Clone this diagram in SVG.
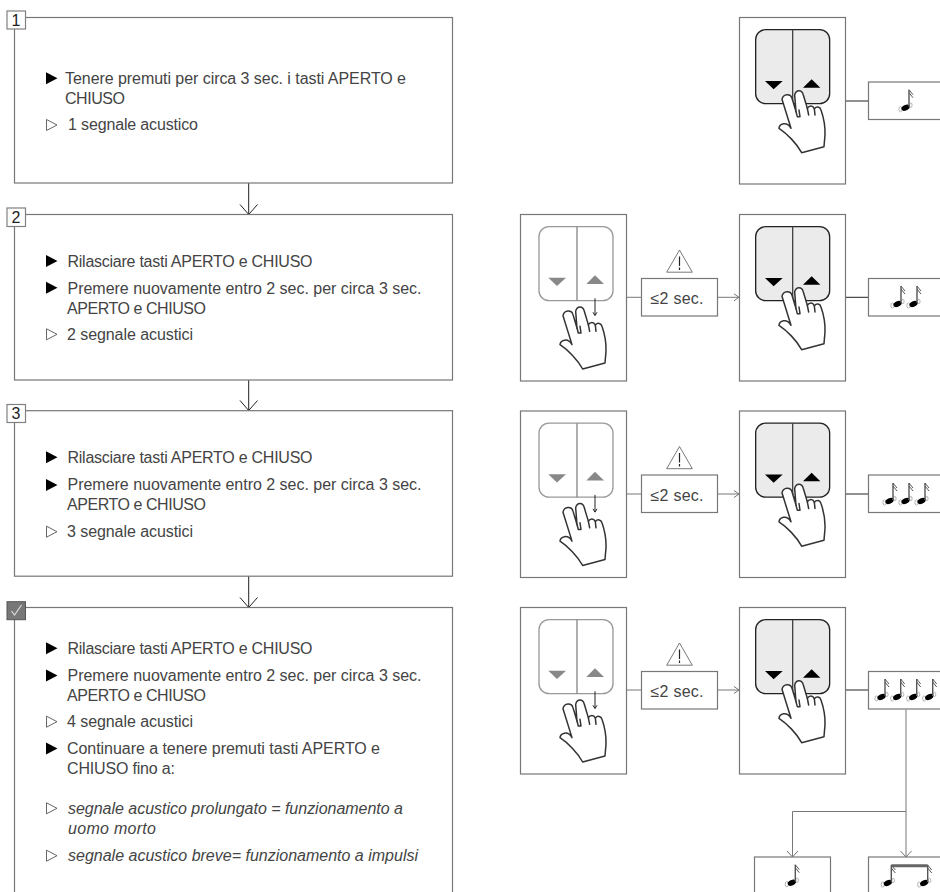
<svg xmlns="http://www.w3.org/2000/svg" width="940" height="892" viewBox="0 0 940 892">
<style>
.box{fill:#fff;stroke:#777;stroke-width:1.200}
.tag{fill:#fff;stroke:#808080;stroke-width:1.200}
.t{font-family:"Liberation Sans",Arial,sans-serif;font-size:16px;fill:#444}
.i{font-style:italic}
.b{fill:#000}
.o{fill:#fff;stroke:#555;stroke-width:.9}
.ln{fill:none;stroke:#222;stroke-width:1}
.lg{fill:none;stroke:#777;stroke-width:1}
.num{font-family:"Liberation Sans",Arial,sans-serif;font-size:16px;fill:#222;text-anchor:middle}
</style>
<defs>
<path id="bf" d="M0-6L11.500 0 0 6z" class="b"/>
<path id="bo" d="M.5-5.500L11 0 .5 5.500z" class="o"/>
<g id="hand" fill="#fff" stroke="#333" stroke-width="4.500" stroke-linejoin="round" stroke-linecap="round">
<path d="M213 385L186 298C190 280 212 280 216 295L228 335L224 285C228 268 246 268 250 285L262 325C268 316 278 316 283 326C290 318 300 320 303 330C310 350 316 380 315 405L312 440L245 458C230 430 200 400 177 385C178 372 200 362 213 385z"/>
<path d="M228 335L232 350L240 350L237 330M262 325L266 345M283 326L285 345" fill="none"/>
</g>
<g id="press">
<rect x="107" y="89" width="222" height="222" rx="30" fill="#ebebeb" stroke="#222" stroke-width="4"/>
<path d="M218 89V311" stroke="#444" stroke-width="4"/>
<path d="M135 243H188L161 268z" fill="#000"/>
<path d="M249 263H301L275 238z" fill="#000"/>
<use href="#hand"/>
</g>
<g id="release">
<rect x="87" y="65" width="222" height="222" rx="30" fill="#fff" stroke="#999" stroke-width="4"/>
<path d="M201 65V287" stroke="#888" stroke-width="4"/>
<path d="M115 218H168L141 243z" fill="#888"/>
<path d="M229 237H282L255 211z" fill="#888"/>
<use href="#hand" transform="translate(-27,34)"/>
<path d="M255 280V330M249 322L255 332L261 322" fill="none" stroke="#222" stroke-width="3"/>
</g>
<g id="note">
<ellipse cx="-8.500" cy="1.500" rx="1.600" ry="2.600" fill="none" stroke="#aaa" stroke-width=".9"/>
<ellipse cx="1.800" cy="-2.500" rx="1.300" ry="2.200" fill="none" stroke="#aaa" stroke-width=".9"/>
<ellipse cx="-3.500" cy="0" rx="4.300" ry="2.700" transform="rotate(-25 -3.500 0)" fill="#000"/>
<path d="M0-18V-1" stroke="#555" stroke-width="1.400"/>
<path d="M0-18L4-13M0-15L4-10" stroke="#555" stroke-width="1" fill="none"/>
</g>
<g id="warn">
<path d="M13 .5L25.800 22.700H.2z" fill="#fff" stroke="#555" stroke-width=".8"/>
<path d="M13 7V16.500M13 18V20.500" stroke="#222" stroke-width="1.200"/>
</g>
</defs>

<g id="connectors">
<path class="ln" d="M248.700 183V214.500M240 204.500L248.700 214.500L257.500 204.500"/>
<path class="ln" d="M248.700 380V410.500M240 400.500L248.700 410.500L257.500 400.500"/>
<path class="ln" d="M248.700 576V607.500M240 597.500L248.700 607.500L257.500 597.500"/>
<path class="ln" d="M845.500 101H868.500"/>
<path class="lg" d="M626.700 297.300H641.500"/>
<path class="lg" d="M717.700 297.300H739M734 293.800L739 297.300L734 300.800"/>
<path class="ln" d="M845.500 297.300H868.500"/>
<path class="lg" d="M626.700 494H641.500"/>
<path class="lg" d="M717.700 494H739M734 490.500L739 494L734 497.500"/>
<path class="ln" d="M845.500 494H868.500"/>
<path class="lg" d="M626.700 690H641.500"/>
<path class="lg" d="M717.700 690H739M734 686.500L739 690L734 693.500"/>
<path class="ln" d="M845.500 690H868.500"/>
<path class="lg" d="M906 709.500V857M900.500 851L906 857L911.500 851M906 811.500H792.500V857M787 851L792.500 857L798 851"/>
</g>

<g id="step1">
<rect class="box" x="14.500" y="17.500" width="438" height="165.500"/>
<rect class="tag" x="7" y="11" width="18.500" height="18"/>
<text class="num" x="16" y="26">1</text>
<use href="#bf" x="46" y="78.300"/>
<text class="t" x="65" y="84" textLength="341">Tenere premuti per circa 3 sec. i tasti APERTO e</text>
<text class="t" x="65" y="104" textLength="60">CHIUSO</text>
<use href="#bo" x="46" y="125"/>
<text class="t" x="68" y="130" textLength="130">1 segnale acustico</text>
</g>

<g id="step2">
<rect class="box" x="14.500" y="214.500" width="438" height="165.500"/>
<rect class="tag" x="7" y="208" width="18.500" height="18.500"/>
<text class="num" x="16" y="222.500">2</text>
<use href="#bf" x="46" y="261"/>
<text class="t" x="67.500" y="267" textLength="245">Rilasciare tasti APERTO e CHIUSO</text>
<use href="#bf" x="46" y="287.700"/>
<text class="t" x="67.500" y="293.500" textLength="354">Premere nuovamente entro 2 sec. per circa 3 sec.</text>
<text class="t" x="67" y="313.500" textLength="139">APERTO e CHIUSO</text>
<use href="#bo" x="46" y="334.300"/>
<text class="t" x="67" y="340" textLength="126">2 segnale acustici</text>
</g>

<g id="step3">
<rect class="box" x="14.500" y="410.700" width="438" height="165.500"/>
<rect class="tag" x="7" y="404.500" width="18.500" height="18"/>
<text class="num" x="16" y="419">3</text>
<use href="#bf" x="46" y="457.300"/>
<text class="t" x="67.500" y="463.300" textLength="245">Rilasciare tasti APERTO e CHIUSO</text>
<use href="#bf" x="46" y="485"/>
<text class="t" x="67.500" y="490" textLength="354">Premere nuovamente entro 2 sec. per circa 3 sec.</text>
<text class="t" x="67" y="510" textLength="139">APERTO e CHIUSO</text>
<use href="#bo" x="46" y="531.700"/>
<text class="t" x="67" y="536.700" textLength="126">3 segnale acustici</text>
</g>

<g id="step4">
<rect class="box" x="14.500" y="607.500" width="438" height="300"/>
<rect x="7" y="601.700" width="18.500" height="18" fill="#777" stroke="#555"/>
<path d="M11.500 611L14.500 615L21.500 605" fill="none" stroke="#ddd" stroke-width="1.200"/>
<use href="#bf" x="46" y="648.300"/>
<text class="t" x="67.500" y="654" textLength="245">Rilasciare tasti APERTO e CHIUSO</text>
<use href="#bf" x="46" y="675.500"/>
<text class="t" x="67.500" y="681" textLength="354">Premere nuovamente entro 2 sec. per circa 3 sec.</text>
<text class="t" x="67" y="701" textLength="139">APERTO e CHIUSO</text>
<use href="#bo" x="46" y="721.700"/>
<text class="t" x="67" y="727" textLength="126">4 segnale acustici</text>
<use href="#bf" x="46" y="748.500"/>
<text class="t" x="67" y="754" textLength="313">Continuare a tenere premuti tasti APERTO e</text>
<text class="t" x="67" y="774" textLength="108">CHIUSO fino a:</text>
<use href="#bo" x="46" y="808.300"/>
<text class="t i" x="68" y="814" textLength="335">segnale acustico prolungato = funzionamento a</text>
<text class="t i" x="68" y="834" textLength="88">uomo morto</text>
<use href="#bo" x="46" y="855.700"/>
<text class="t i" x="68" y="861" textLength="350">segnale acustico breve= funzionamento a impulsi</text>
</g>

<g id="press1">
<rect class="box" x="739.500" y="17.500" width="106" height="166.500"/>
<use href="#press" transform="translate(720,0) scale(.3333)"/>
</g>
<g id="signal1">
<rect class="box" x="868.500" y="82" width="80" height="37.500"/>
<use href="#note" x="909" y="107.700"/>
</g>

<g id="release2">
<rect class="box" x="520.500" y="214.500" width="106" height="166.500"/>
<use href="#release" transform="translate(510,205) scale(.3333)"/>
</g>
<g id="wait2">
<use href="#warn" x="666.500" y="249.500"/>
<rect class="box" x="641.500" y="278.500" width="76" height="37.500"/>
<text class="t" x="650.500" y="304" textLength="53">≤2 sec.</text>
</g>
<g id="press2">
<rect class="box" x="739.500" y="214.500" width="106" height="166.500"/>
<use href="#press" transform="translate(720,197) scale(.3333)"/>
</g>
<g id="signal2">
<rect class="box" x="868.500" y="278.500" width="80" height="37.500"/>
<use href="#note" x="901" y="304"/>
<use href="#note" x="917" y="304"/>
</g>

<g id="release3">
<rect class="box" x="520.500" y="411" width="106" height="166.500"/>
<use href="#release" transform="translate(510,401.500) scale(.3333)"/>
</g>
<g id="wait3">
<use href="#warn" x="666.500" y="446"/>
<rect class="box" x="641.500" y="475" width="76" height="37.500"/>
<text class="t" x="650.500" y="500.500" textLength="53">≤2 sec.</text>
</g>
<g id="press3">
<rect class="box" x="739.500" y="411" width="106" height="166.500"/>
<use href="#press" transform="translate(720,393.500) scale(.3333)"/>
</g>
<g id="signal3">
<rect class="box" x="868.500" y="475" width="80" height="37.500"/>
<use href="#note" x="893" y="501"/>
<use href="#note" x="909" y="501"/>
<use href="#note" x="925" y="501"/>
</g>

<g id="release4">
<rect class="box" x="520.500" y="607.500" width="106" height="166.500"/>
<use href="#release" transform="translate(510,598) scale(.3333)"/>
</g>
<g id="wait4">
<use href="#warn" x="666.500" y="642.500"/>
<rect class="box" x="641.500" y="671.500" width="76" height="37.500"/>
<text class="t" x="650.500" y="697" textLength="53">≤2 sec.</text>
</g>
<g id="press4">
<rect class="box" x="739.500" y="607.500" width="106" height="166.500"/>
<use href="#press" transform="translate(720,590) scale(.3333)"/>
</g>
<g id="signal4">
<rect class="box" x="868.500" y="671.500" width="80" height="37.500"/>
<use href="#note" x="885" y="697"/>
<use href="#note" x="900.700" y="697"/>
<use href="#note" x="916.700" y="697"/>
<use href="#note" x="932.700" y="697"/>
</g>

<g id="signal-short">
<rect class="box" x="754.500" y="857" width="76" height="37.500"/>
<use href="#note" x="795.300" y="882.700"/>
</g>
<g id="signal-long">
<rect class="box" x="868.500" y="857" width="80" height="37.500"/>
<use href="#note" x="891.300" y="883"/>
<use href="#note" x="927.700" y="883"/>
<path d="M891.300 865.800H927.700" stroke="#666" stroke-width="3"/>
</g>
</svg>
